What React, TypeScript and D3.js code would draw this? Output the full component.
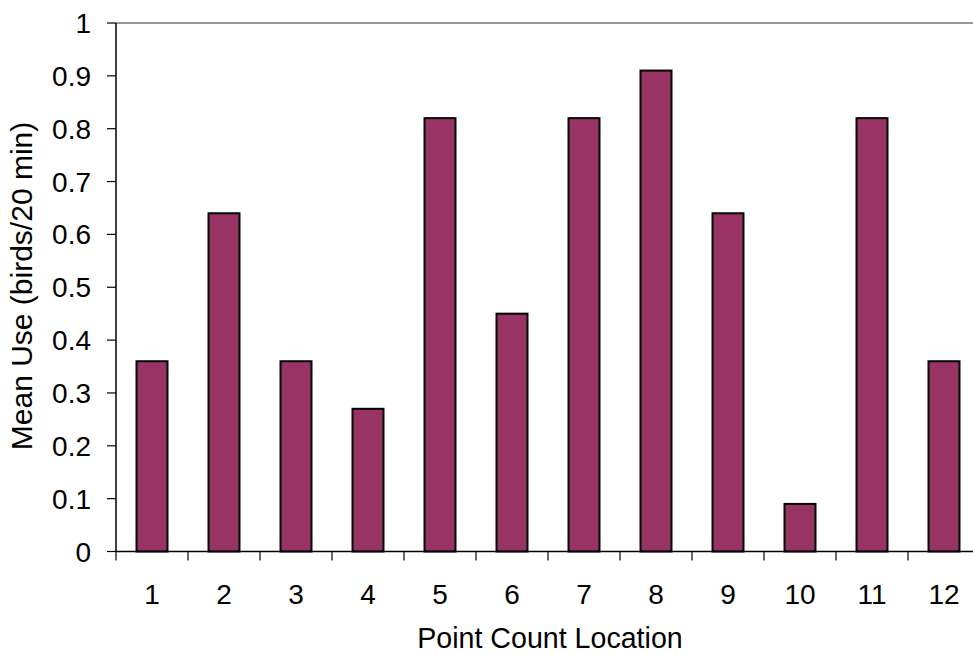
import React from "react";
import * as d3 from "d3";

const categories = ["1", "2", "3", "4", "5", "6", "7", "8", "9", "10", "11", "12"];
const values = [0.36, 0.64, 0.36, 0.27, 0.82, 0.45, 0.82, 0.91, 0.64, 0.09, 0.82, 0.36];
const yTicks = [0, 0.1, 0.2, 0.3, 0.4, 0.5, 0.6, 0.7, 0.8, 0.9, 1];
const yLabels = ["0", "0.1", "0.2", "0.3", "0.4", "0.5", "0.6", "0.7", "0.8", "0.9", "1"];

const W = 973;
const H = 654;
const left = 116;
const right = 980;
const top = 23;
const bottom = 551.5;
const font = "'Liberation Sans', Arial, sans-serif";

export default function App() {
  const x = d3.scaleBand<string>().domain(categories).range([left, right]).paddingInner(0.57).paddingOuter(0.285);
  const xb = d3.scaleBand<string>().domain(categories).range([left, right]);
  const y = d3.scaleLinear().domain([0, 1]).range([bottom, top]);
  return (
    <svg width={W} height={H} style={{ position: "absolute", left: 0, top: 0, background: "#fff" }} fontFamily={font}>
      <line x1={left} x2={W} y1={top} y2={top} stroke="#999" strokeWidth={2} />
      {categories.map((c, i) => (
        <rect key={c} x={x(c)} y={y(values[i])} width={x.bandwidth()} height={bottom - y(values[i])}
          fill="#993366" stroke="#000" strokeWidth={2} />
      ))}
      <line x1={left} x2={left} y1={top} y2={bottom} stroke="#000" strokeWidth={1.5} />
      <line x1={left} x2={W} y1={bottom} y2={bottom} stroke="#000" strokeWidth={1.5} />
      {yTicks.map((t, i) => (
        <g key={t}>
          <line x1={left - 9} x2={left} y1={y(t)} y2={y(t)} stroke="#000" strokeWidth={1.2} />
          <text x={91} y={y(t)} dy="0.36em" textAnchor="end" fontSize={28}>{yLabels[i]}</text>
        </g>
      ))}
      {categories.map((c) => (
        <g key={c}>
          <line x1={xb(c)!} x2={xb(c)!} y1={bottom} y2={bottom + 9} stroke="#000" strokeWidth={1.2} />
          <text x={xb(c)! + xb.bandwidth() / 2} y={604} textAnchor="middle" fontSize={28}>{c}</text>
        </g>
      ))}
      <text x={550} y={648} textAnchor="middle" fontSize={28.6}>Point Count Location</text>
      <text transform={`translate(32, 286) rotate(-90)`} textAnchor="middle" fontSize={30}>Mean Use (birds/20 min)</text>
    </svg>
  );
}
